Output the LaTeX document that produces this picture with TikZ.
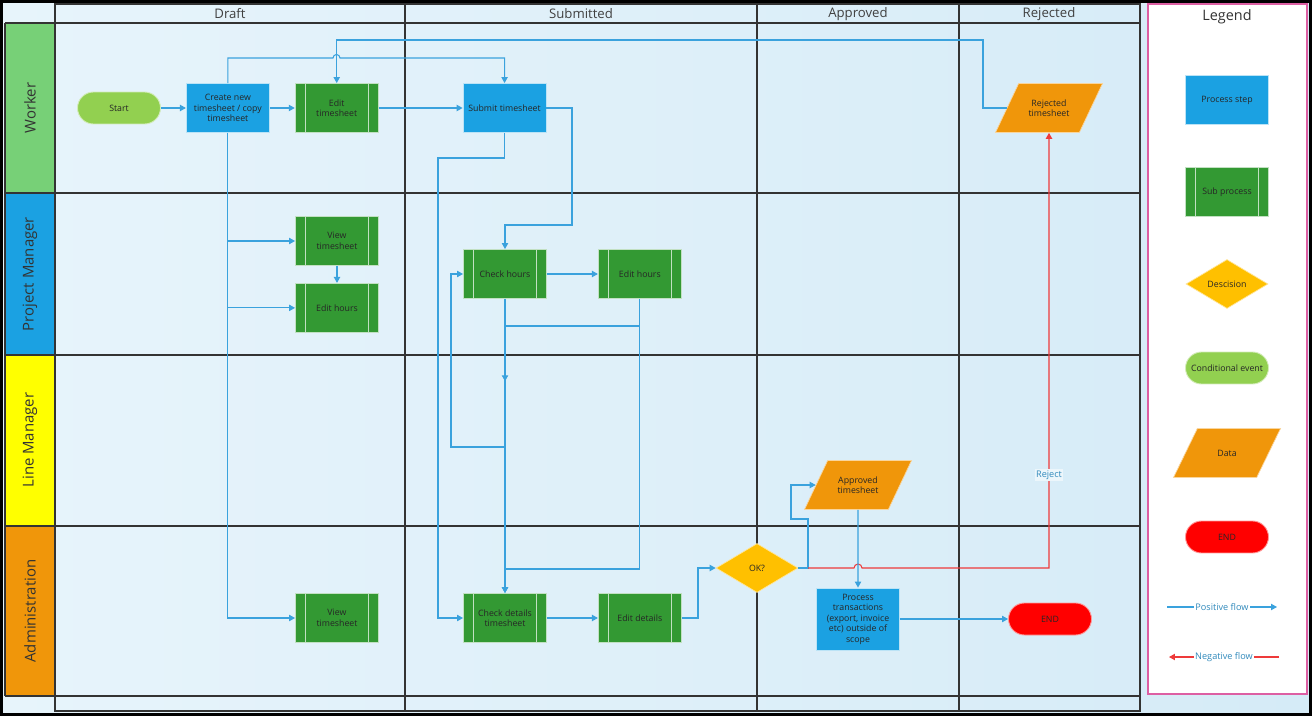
\documentclass[tikz,border=0pt]{standalone}
\usepackage{fontspec}
\setmainfont{Open Sans}
\usetikzlibrary{arrows.meta,positioning,shapes.geometric,calc,decorations.markings}

\definecolor{procblue}{HTML}{1BA1E2}
\definecolor{subgreen}{HTML}{339933}
\definecolor{evgreen}{HTML}{92D050}
\definecolor{decyellow}{HTML}{FFC000}
\definecolor{dataorange}{HTML}{F0960A}
\definecolor{flowblue}{HTML}{3AA2DD}
\definecolor{flowred}{HTML}{EE3A3A}
\definecolor{lanegreen}{HTML}{77D077}
\definecolor{laneyellow}{HTML}{FFFF00}
\definecolor{legpink}{HTML}{DD5FA3}
\definecolor{bgleft}{HTML}{E7F4FB}
\definecolor{bgright}{HTML}{D5EBF7}

\begin{document}
\begin{tikzpicture}[x=0.02cm, y=-0.02cm,
    font=\fontsize{5}{6}\selectfont,
    block/.style={draw=white!70!procblue, line width=0.5pt, align=center, minimum width=1.66cm, minimum height=0.98cm, inner sep=1pt, text=black!85},
    proc/.style={block, fill=procblue},
    subproc/.style={block, fill=subgreen, draw=white!70!subgreen,
      path picture={\draw[white!70!subgreen, line width=0.5pt]
        ([xshift=0.2cm]path picture bounding box.north west) -- ([xshift=0.2cm]path picture bounding box.south west)
        ([xshift=-0.2cm]path picture bounding box.north east) -- ([xshift=-0.2cm]path picture bounding box.south east);}},
    event/.style={block, fill=evgreen, draw=white!60!evgreen, rounded corners=0.32cm, minimum height=0.64cm},
    endev/.style={event, fill=red, draw=white!60!red},
    decision/.style={diamond, aspect=1.67, fill=decyellow, draw=white!60!decyellow, minimum width=1.64cm, minimum height=0.98cm, inner sep=0pt, align=center, text=black!85},
    datanode/.style={trapezium, trapezium left angle=63, trapezium right angle=117, trapezium stretches body, fill=dataorange, draw=white!60!dataorange, minimum width=2.14cm, minimum height=0.98cm, inner xsep=1pt, inner ysep=8pt, align=center, text=black!85},
    flowline/.style={color=flowblue, line width=0.6pt},
    arr/.style={flowline, -{Triangle[length=3.4pt,width=3.6pt]}},
    negarr/.style={color=flowred, line width=0.6pt, -{Triangle[length=3.4pt,width=3.6pt]}},
    midarr/.style={postaction={decorate}, decoration={markings, mark=at position #1 with {\arrow{Triangle[length=3.4pt,width=3.6pt]}}}},
    flowlbl/.style={fill=white, inner sep=0.6pt, text=flowblue!85!black, font=\fontsize{5.2}{6}\selectfont},
    gridline/.style={draw=black!80, line width=0.6pt},
    lane/.style={rotate=90, font=\fontsize{8.5}{10}\selectfont, text=black!80},
    colhead/.style={font=\fontsize{7.5}{9}\selectfont, text=black!75}
  ]
    \useasboundingbox (0,0) rectangle (1312,716);
    \shade[left color=bgleft, right color=bgright] (0,0) rectangle (1312,716);

    % swimlanes
    \fill[lanegreen] (5,23) rectangle (55,193);
    \fill[procblue] (5,193) rectangle (55,355);
    \fill[laneyellow] (5,355) rectangle (55,526);
    \fill[dataorange] (5,526) rectangle (55,696);
    \draw[gridline] (55,4) rectangle (1140,711);
    \draw[gridline] (5,23) -- (5,696);
    \foreach \y in {23,193,696}
      \draw[gridline] (5,\y) -- (1140,\y);
    \foreach \y in {355,526}
      \draw[gridline, line width=1.1pt] (5,\y) -- (1140,\y);
    \foreach \x in {405,757,959}
      \draw[gridline] (\x,4) -- (\x,711);

    \node[colhead] (hdraft) at (230,14) {Draft};
    \node[colhead] (hsub) at (581,14) {Submitted};
    \node[colhead] (happr) at (858,14) {Approved};
    \node[colhead] (hrej) at (1049,14) {Rejected};
    \node[lane] (lwork) at (30,108) {Worker};
    \node[lane] (lpm) at (30,274) {Project Manager};
    \node[lane] (llm) at (30,440) {Line Manager};
    \node[lane] (ladm) at (30,611) {Administration};

    % legend
    \draw[legpink, fill=white, line width=0.7pt] (1148,4) rectangle (1307,694);
    \node[font=\fontsize{8.2}{10}\selectfont, text=black!80] (legt) at (1227,17) {Legend};
    \node[proc] (lproc) at (1227,100) {Process step};
    \node[subproc] (lsub) at (1227,192) {Sub process};
    \node[decision] (ldec) at (1227,284) {Descision};
    \node[event] (lev) at (1227,368) {Conditional event};
    \node[datanode, inner ysep=11.5pt] (ldata) at (1227,453) {Data};
    \node[endev] (lend) at (1227,537) {END};
    \coordinate (pfa) at (1167,607);
    \coordinate (pfb) at (1277,607);
    \coordinate (nfa) at (1279,657);
    \coordinate (nfb) at (1169,657);
    \draw[arr] (pfa) -- node[flowlbl] {Positive flow} (pfb);
    \draw[negarr] (nfa) -- node[flowlbl] {Negative flow} (nfb);

    % worker
    \node[event] (start) at (119,108) {Start};
    \node[proc, right=0.5cm of start] (create) {Create new\\timesheet / copy\\timesheet};
    \node[subproc, right=0.5cm of create] (editts) {Edit\\timesheet};
    \node[proc, right=1.68cm of editts] (submit) {Submit timesheet};
    \node[datanode] (rejts) at (1049,108) {Rejected\\timesheet};
    % project manager
    \node[subproc] (viewpm) at (337,241) {View\\timesheet};
    \node[subproc, below=0.34cm of viewpm] (edhpm) {Edit hours};
    \node[subproc] (chkh) at (505,274) {Check hours};
    \node[subproc, right=1.02cm of chkh] (edh) {Edit hours};
    % line manager
    \node[datanode] (apprts) at (858,485) {Approved\\timesheet};
    % administration
    \node[subproc] (viewad) at (337,618) {View\\timesheet};
    \node[subproc] (chkd) at (505,618) {Check details\\timesheet};
    \node[subproc, right=1.02cm of chkd] (editd) {Edit details};
    \node[decision] (ok) at (757,568) {OK?};
    \node[proc, minimum height=1.24cm] (ptrans) at (858,619) {Process\\transactions\\(export, invoice\\etc) outside of\\scope};
    \node[endev] (endn) at (1050,619) {END};
    \coordinate (oksplit) at (808,568);

    \draw[arr] (start) -- (create);
    \draw[arr] (create) -- (editts);
    \draw[arr] (editts) -- (submit);
    \draw[arr] (create.north) |- (333,58) arc[start angle=180, end angle=0, radius=0.07cm] -| (submit.north);
    \draw[arr] (rejts.west) -| (983,40) -| (editts.north);
    \draw[arr] (create.south) |- (viewpm.west);
    \draw[arr] (create.south) |- (edhpm.west);
    \draw[arr] (create.south) |- (viewad.west);
    \draw[arr] (viewpm) -- (edhpm);
    \draw[arr] (submit.east) -| (572,225) -| (chkh.north);
    \draw[arr] (submit.south) |- (438,158) |- (chkd.west);
    \draw[arr] (chkh) -- (edh);
    \draw[arr, midarr=0.28] (chkh) -- (chkd);
    \draw[arr] (edh.south) |- (505,326) |- (451,447) |- (chkh.west);
    \draw[arr] (edh.south) |- (505,569) -- (chkd.north);
    \draw[arr] (chkd) -- (editd);
    \draw[arr] (editd.east) -| (698,568) -- (ok.west);
    \draw[arr] (ok.east) -- (oksplit) |- (791,519) |- (apprts.west);
    \draw[negarr] (oksplit) -- (854,568) arc[start angle=180, end angle=0, radius=0.08cm] -| (rejts.center |- rejts.south);
    \node[flowlbl, fill=white!55!bgright] (rejlbl) at (1049,475) {Reject};
    \draw[arr] (apprts) -- (ptrans);
    \draw[arr] (ptrans) -- (endn);

    \draw[black, line width=1.7pt] (1.5,1.5) rectangle (1310.5,714.5);
  \end{tikzpicture}
\end{document}
